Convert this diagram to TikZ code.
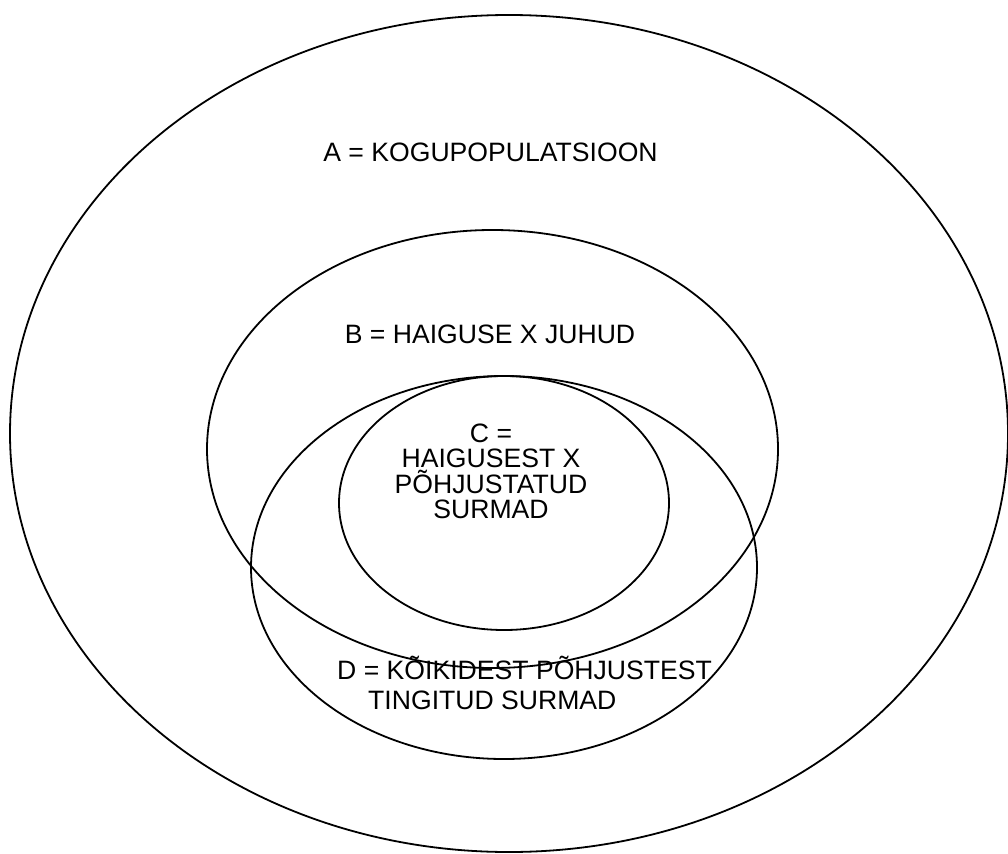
\documentclass[tikz,border=0pt]{standalone}
\usepackage{fontspec}
\setmainfont{Liberation Sans}
\usetikzlibrary{shapes.geometric}
\begin{document}
\begin{tikzpicture}[x=1pt,y=-1pt,
  setshape/.style={draw=black, line width=1.8pt, ellipse, inner sep=0pt},
  lbl/.style={font=\fontsize{26.6}{26}\selectfont, inner sep=0pt, anchor=base}]
\useasboundingbox (0,0) rectangle (1008,853);
\node[setshape, minimum width=998pt, minimum height=837pt] (A) at (509,433.5) {};
\node[setshape, minimum width=571pt, minimum height=438pt] (B) at (492.5,449) {};
\node[setshape, minimum width=506pt, minimum height=383pt] (D) at (504,567.5) {};
\node[setshape, minimum width=330pt, minimum height=254pt] (C) at (504,503) {};
\node[lbl] (ta) at (490.5,162) {A = KOGUPOPULATSIOON};
\node[lbl] (tb) at (490,343) {B = HAIGUSE X JUHUD};
\node[lbl] (tc1) at (491,442) {C =};
\node[lbl] (tc2) at (491,467.5) {HAIGUSEST X};
\node[lbl] (tc3) at (491,493) {PÕHJUSTATUD};
\node[lbl] (tc4) at (491,518.5) {SURMAD};
\node[lbl, anchor=base west] (td1) at (337,679) {D = KÕIKIDEST PÕHJUSTEST};
\node[lbl, anchor=base west] (td2) at (368,709) {TINGITUD SURMAD};
\end{tikzpicture}
\end{document}
